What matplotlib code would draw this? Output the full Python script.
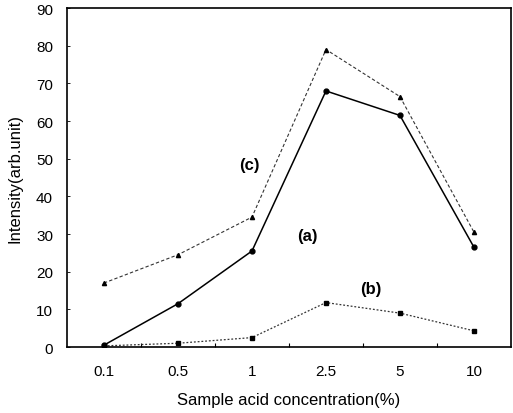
import matplotlib
matplotlib.use("Agg")
import matplotlib.pyplot as plt
import numpy as np

plt.rcParams['font.family'] = ['Liberation Sans', 'DejaVu Sans']

categories = ["0.1", "0.5", "1", "2.5", "5", "10"]
series_a = [0.5, 11.5, 25.5, 68.0, 61.5, 26.5]
series_b = [0.3, 1.0, 2.5, 11.8, 9.0, 4.3]
series_c = [17.0, 24.5, 34.5, 79.0, 66.5, 30.5]
y_ticks = [0, 10, 20, 30, 40, 50, 60, 70, 80, 90]

fig = plt.figure(figsize=(5.13, 4.14), dpi=100)
ax = fig.add_axes([0.1306, 0.1594, 0.8654, 0.8186])

x = np.arange(len(categories))
ax.plot(x, series_a, color='black', linestyle='-', linewidth=1.1,
        marker='o', markersize=3.5)
ax.plot(x, series_b, color='#333333', linestyle=(0, (1.5, 1.5)), linewidth=0.9,
        marker='s', markersize=3, markerfacecolor='black', markeredgecolor='black')
ax.plot(x, series_c, color='#333333', linestyle=(0, (3, 2)), linewidth=0.8,
        marker='^', markersize=3, markerfacecolor='black', markeredgecolor='black')

ax.set_xlim(-0.5, len(categories) - 0.5)
ax.set_ylim(0, 90)
ax.set_yticks(y_ticks)
ax.set_xticks(x)
ax.set_xticklabels(categories)
ax.set_xticks(np.arange(len(categories) - 1) + 0.5, minor=True)
ax.tick_params(axis='x', which='major', length=0, pad=12, labelsize=11)
ax.tick_params(axis='x', which='minor', direction='in', length=3, width=0.8)
ax.tick_params(axis='y', direction='in', length=2, width=0.6, labelsize=11, pad=10)

for s in ax.spines.values():
    s.set_linewidth(1.2)

ax.set_xlabel("Sample acid concentration(%)", fontsize=12, labelpad=10)
ax.set_ylabel("Intensity(arb.unit)", fontsize=12, labelpad=10)

ax.text(1.96, 48.5, "(c)", fontsize=12, fontweight='bold', ha='center', va='center')
ax.text(2.75, 29.5, "(a)", fontsize=12, fontweight='bold', ha='center', va='center')
ax.text(3.6, 15.5, "(b)", fontsize=12, fontweight='bold', ha='center', va='center')

fig.savefig("out.png", dpi=100)
